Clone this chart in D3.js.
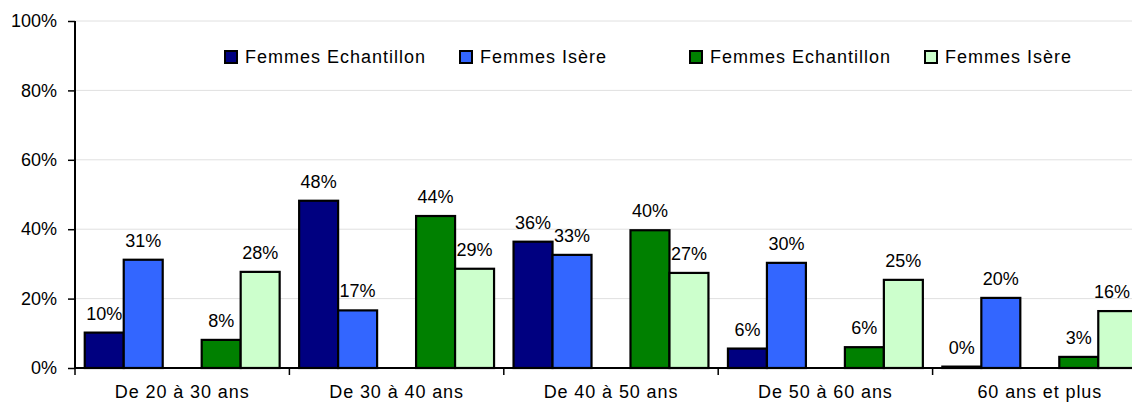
<!DOCTYPE html>
<html>
<head>
<meta charset="utf-8">
<script src="https://cdn.jsdelivr.net/npm/d3@7"></script>
<style>
  body { margin: 0; background: #fff; }
  svg text { font-family: "Liberation Sans", Arial, sans-serif; fill: #000; }
</style>
</head>
<body>
<svg id="chart" width="1132" height="405"></svg>
<script>
// age groups on the x axis
var categories = ['De 20 à 30 ans', 'De 30 à 40 ans', 'De 40 à 50 ans', 'De 50 à 60 ans', '60 ans et plus'];

// series, in percent
var echantillonA = [10.2, 48.2, 36.4, 5.6, 0.4];
var isereA = [31.2, 16.6, 32.6, 30.3, 20.2];
var echantillonB = [8.1, 43.8, 39.7, 6.0, 3.2];
var isereB = [27.7, 28.6, 27.4, 25.4, 16.4];

var seriesNames = ['Femmes Echantillon', 'Femmes Isère', 'Femmes Echantillon', 'Femmes Isère'];
var seriesColors = ['#000080', '#3366ff', '#008000', '#ccffcc'];
var yTicks = [0, 20, 40, 60, 80, 100];

var series = [echantillonA, isereA, echantillonB, isereB];
// one empty slot between the two pairs of bars
var slots = ['s0', 's1', 'gap', 's2', 's3'];
var barSlots = slots.filter(function(s) { return s !== 'gap'; });

var width = 1132;
var svg = d3.select('#chart');
var plotLeft = 75, plotTop = 21, plotBottom = 368, plotRight = 1147;

var x = d3.scaleBand().domain(categories).range([plotLeft, plotRight]);
var xInner = d3.scaleBand().domain(slots).range([0, x.bandwidth()]).paddingOuter(0.25);
var y = d3.scaleLinear().domain([0, 100]).range([plotBottom, plotTop]);

// gridlines
svg.append('g').selectAll('line').data(yTicks.slice(1)).join('line')
    .attr('x1', plotLeft).attr('x2', width)
    .attr('y1', function(d) { return y(d); }).attr('y2', function(d) { return y(d); })
    .attr('stroke', '#e0e0e0').attr('stroke-width', 1);

// bars
series.forEach(function(values, i) {
  var slot = barSlots[i];
  var g = svg.append('g');
  g.selectAll('rect').data(values).join('rect')
      .attr('x', function(d, j) { return x(categories[j]) + xInner(slot); })
      .attr('y', function(d) { return y(d); })
      .attr('width', xInner.bandwidth())
      .attr('height', function(d) { return plotBottom - y(d); })
      .attr('fill', seriesColors[i])
      .attr('stroke', '#000').attr('stroke-width', 2.2);
  g.selectAll('text').data(values).join('text')
      .attr('x', function(d, j) {
        // keep the label inside the picture (last bar is cut by the edge)
        return Math.min(x(categories[j]) + xInner(slot) + xInner.bandwidth() / 2, width - 20);
      })
      .attr('y', function(d) { return y(d) - 13; })
      .attr('text-anchor', 'middle')
      .style('font-size', '18px')
      .text(function(d) { return Math.round(d) + '%'; });
});

// y axis
var yAxis = d3.axisLeft(y).tickValues(yTicks).tickSize(7).tickPadding(11)
    .tickFormat(function(d) { return d + '%'; });
var gy = svg.append('g').attr('transform', 'translate(' + plotLeft + ',0)').call(yAxis);
gy.select('.domain').attr('stroke', '#000').attr('stroke-width', 2)
    .attr('d', 'M0,' + plotTop + 'V' + plotBottom);
gy.selectAll('.tick line').attr('stroke', '#000').attr('stroke-width', 1.5);
gy.selectAll('.tick text').attr('fill', '#000').style('font-size', '18px')
    .style('font-family', '"Liberation Sans", Arial, sans-serif');

// x axis
var gx = svg.append('g').attr('transform', 'translate(0,' + plotBottom + ')');
gx.append('line').attr('x1', plotLeft).attr('x2', width).attr('stroke', '#000').attr('stroke-width', 2);
gx.selectAll('line.tick').data(categories).join('line').attr('class', 'tick')
    .attr('x1', function(d) { return x(d); }).attr('x2', function(d) { return x(d); })
    .attr('y1', 0).attr('y2', 7).attr('stroke', '#000').attr('stroke-width', 1.5);
gx.selectAll('text').data(categories).join('text')
    .attr('x', function(d) { return x(d) + x.bandwidth() / 2; })
    .attr('y', 30)
    .attr('text-anchor', 'middle')
    .style('font-size', '18px').style('letter-spacing', '0.9px')
    .text(function(d) { return d; });

// legend
var legendX = [225, 460, 690, 925];
var legend = svg.append('g').selectAll('g').data(seriesNames).join('g')
    .attr('transform', function(d, i) { return 'translate(' + legendX[i] + ',51)'; });
legend.append('rect').attr('width', 12).attr('height', 12)
    .attr('fill', function(d, i) { return seriesColors[i]; })
    .attr('stroke', '#000').attr('stroke-width', 2);
legend.append('text').attr('x', 20).attr('y', 12)
    .style('font-size', '18px').style('letter-spacing', '1px')
    .text(function(d) { return d; });
</script>
</body>
</html>
